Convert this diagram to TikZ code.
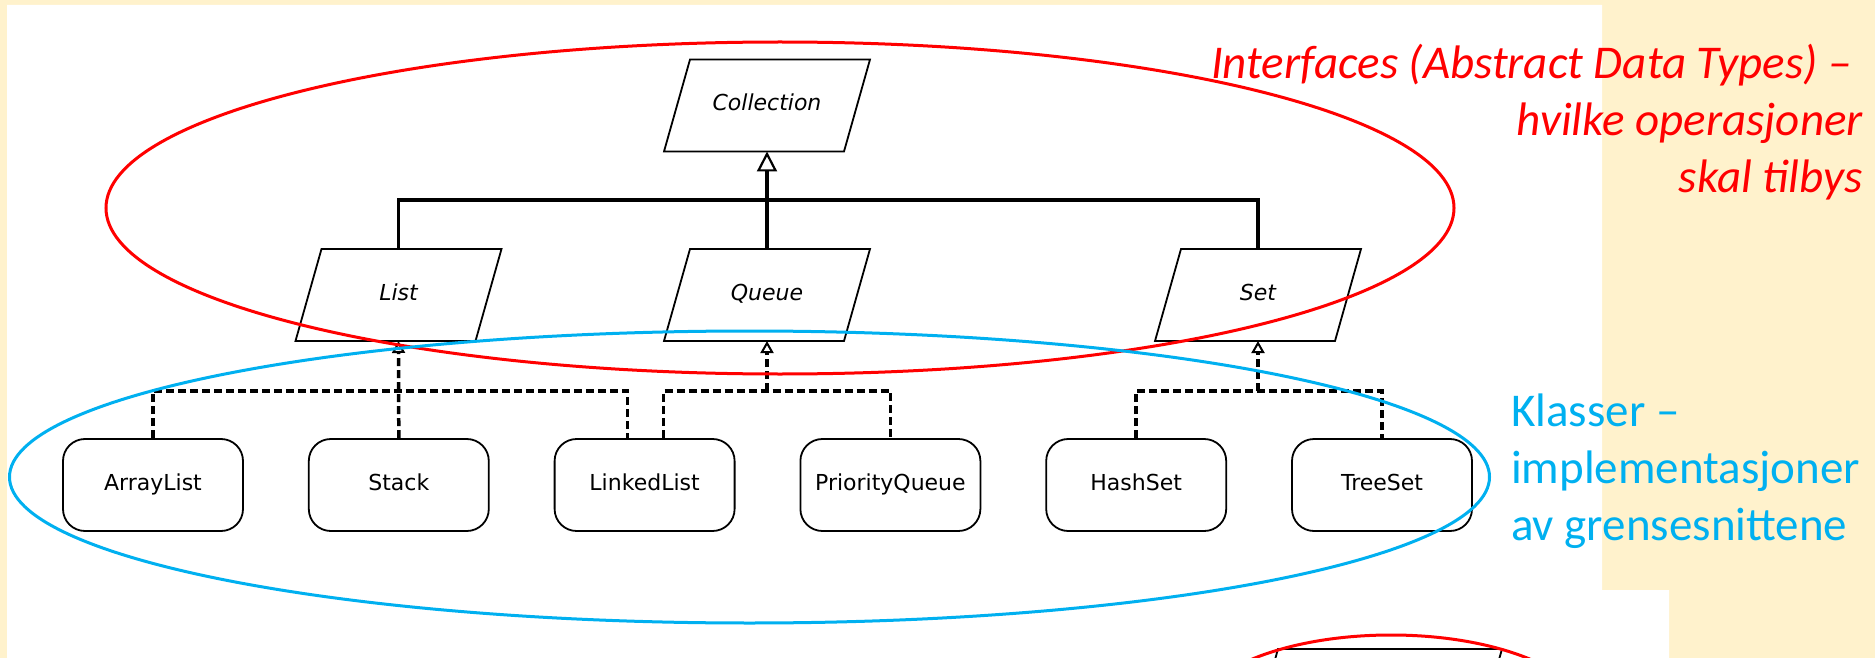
\documentclass[tikz,border=0pt]{standalone}
\usepackage{fontspec}
\usepackage{tikz}
\usetikzlibrary{arrows.meta, positioning}
\newfontfamily\umlfont{DejaVu Sans}
\newfontfamily\notefont{Carlito}
\definecolor{paper}{RGB}{255,242,204}
\definecolor{ifacered}{RGB}{255,0,0}
\definecolor{classblue}{RGB}{0,176,240}

\begin{document}
\begin{tikzpicture}[x=1pt, y=-1pt,
    node distance=64pt,
    cls/.style={rectangle, rounded corners=22pt, draw, line width=1.8pt, fill=white,
                minimum width=180pt, minimum height=92pt, inner sep=2pt,
                text height=16pt, text depth=5pt,
                font=\umlfont\fontsize{22pt}{26pt}\selectfont},
    iface/.style={rectangle, minimum width=180pt, minimum height=92pt,
                  inner sep=0pt, outer sep=0pt, text height=16pt, text depth=5pt,
                  font=\umlfont\itshape\fontsize{22pt}{26pt}\selectfont},
    gen/.style={line width=3.8pt},
    impl/.style={line width=3.5pt, dash pattern=on 8pt off 4pt},
    head/.style={-{Triangle[open, width=20pt, length=20pt, line width=2.2pt]}},
    dhead/.style={-{Triangle[open, width=13pt, length=12pt, line width=2pt]}},
    note/.style={font=\notefont\fontsize{47pt}{57pt}\selectfont, inner sep=0pt},
    inote/.style={font=\notefont\itshape\fontsize{47pt}{57pt}\selectfont, inner sep=0pt}
  ]
  \clip (0,0) rectangle (1875,658);
  \fill[paper] (0,0) rectangle (1875,658);
  \fill[white] (7,5) -- (1602,5) -- (1602,590) -- (1669,590) -- (1669,658) -- (7,658) -- cycle;

  \node[iface] (collection) at (767,105.5) {Collection};
  \node[iface] (list)  at (398.5,295) {List};
  \node[iface] (queue) at (767,295)   {Queue};
  \node[iface] (set)   at (1258,295)  {Set};
  \node[iface, minimum width=224pt] (nextiface) at (1377,695) {};

  \foreach \n in {collection, list, queue, set, nextiface}
    \draw[line width=1.8pt] ([xshift=13pt]\n.north west) -- ([xshift=13pt]\n.north east)
      -- ([xshift=-13pt]\n.south east) -- ([xshift=-13pt]\n.south west) -- cycle;

  \node[cls] (arraylist) at (153,485) {ArrayList};
  \node[cls, right=of arraylist]     (stack)         {Stack};
  \node[cls, right=of stack]         (linkedlist)    {LinkedList};
  \node[cls, right=of linkedlist]    (priorityqueue) {PriorityQueue};
  \node[cls, right=of priorityqueue] (hashset)       {HashSet};
  \node[cls, right=of hashset]       (treeset)       {TreeSet};

  \coordinate (genjoin)   at (767,200);
  \coordinate (listjoin)  at (398.5,391);
  \coordinate (queuejoin) at (767,391);
  \coordinate (setjoin)   at (1258,391);

  \draw[gen] (list.north) |- (genjoin) -| (set.north);
  \draw[gen, head] (queue.north) -- (collection.south);

  \draw[impl, dhead] (stack.north) -- (list.south);
  \draw[impl] (arraylist.north) |- (listjoin) -| ([xshift=-17pt]linkedlist.north);
  \draw[impl, dhead] (queuejoin) -- (queue.south);
  \draw[impl] ([xshift=19pt]linkedlist.north) |- (queuejoin) -| (priorityqueue.north);
  \draw[impl, dhead] (setjoin) -- (set.south);
  \draw[impl] (hashset.north) |- (setjoin) -| (treeset.north);

  \draw[ifacered, line width=3pt] (780,208) ellipse [x radius=674, y radius=166];
  \draw[classblue, line width=3pt] (749.5,477) ellipse [x radius=740, y radius=146];
  \draw[ifacered, line width=3pt] (1391,720) ellipse [x radius=199, y radius=85];

  \node[inote, text=ifacered, align=right, anchor=base east] (ifacenote) at (1863,193)
    {Interfaces (Abstract Data Types) –\hspace*{0.23em}\\hvilke operasjoner\\skal tilbys};
  \node[note, text=classblue, align=left, anchor=base west] (classnote) at (1511,540)
    {Klasser –\\implementasjoner\\av grensesnittene};
\end{tikzpicture}
\end{document}
